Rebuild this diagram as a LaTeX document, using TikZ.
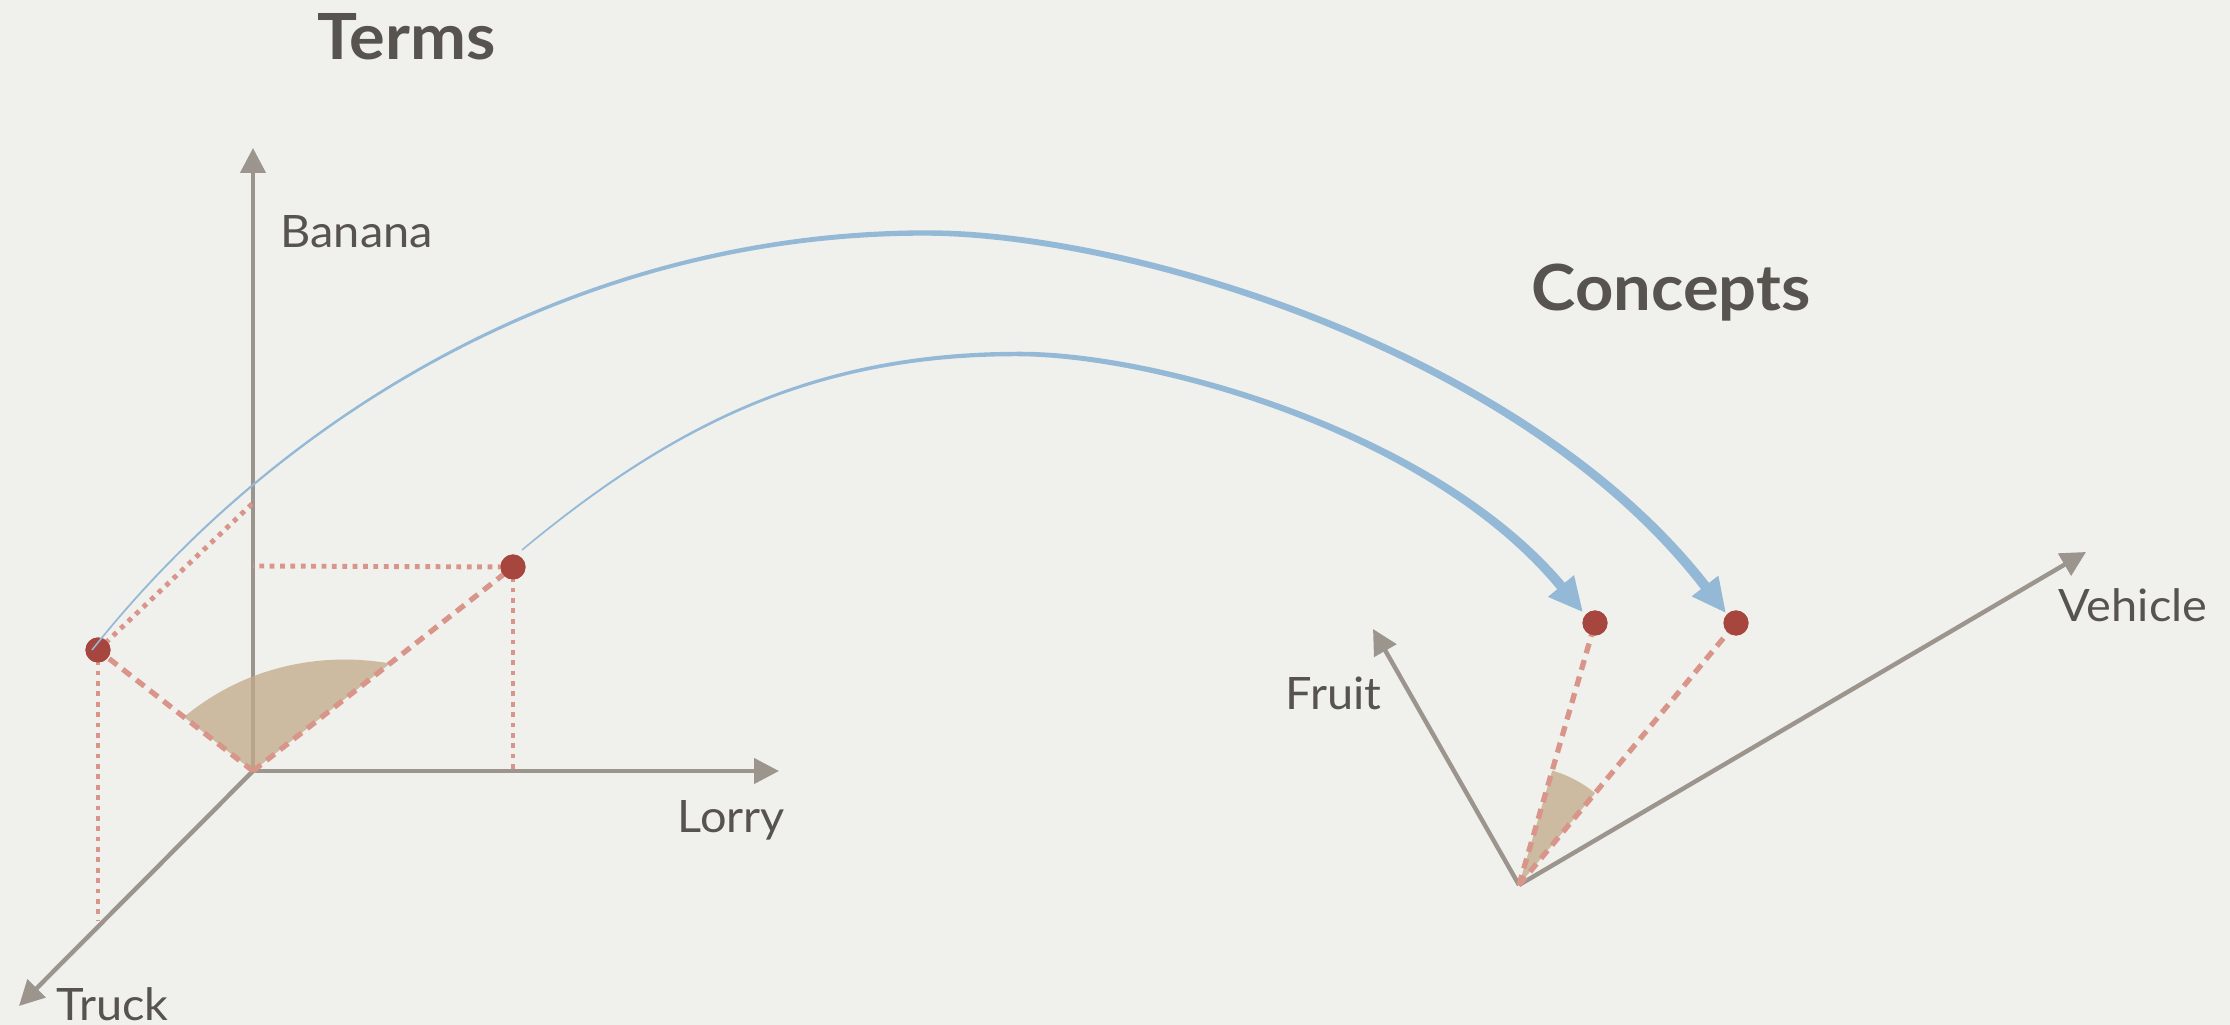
\documentclass[tikz,border=0pt]{standalone}
\usepackage{fontspec}
\setmainfont{Lato}[FakeStretch=1.05]
\usetikzlibrary{arrows.meta}
\definecolor{bg}{HTML}{F0F0EC}
\definecolor{axisc}{HTML}{9B958E}
\definecolor{dotc}{HTML}{A6463F}
\definecolor{linec}{HTML}{D9958A}
\definecolor{bluec}{HTML}{94B9D6}
\definecolor{wedgec}{HTML}{C2AA88}
\definecolor{textc}{HTML}{57534E}
\begin{document}
\begin{tikzpicture}[x=0.01cm,y=-0.01cm,
  axisline/.style={draw=axisc, line width=1.25pt, -{Triangle[length=7.1pt,width=7.1pt]}},
  dotline/.style={draw=linec, line width=1.4pt, dash pattern=on 1.35pt off 1.6pt},
  dashline/.style={draw=linec, line width=1.5pt, dash pattern=on 2.9pt off 2pt},
  vec/.style={circle, fill=dotc, minimum size=0.25cm, inner sep=0pt},
  lbl/.style={text=textc, font=\fontsize{12.7}{15}\selectfont, anchor=base west, inner sep=0pt},
  ttl/.style={text=textc, font=\fontsize{18.1}{22}\selectfont\bfseries, anchor=base west, inner sep=0pt},
  wedge/.style={fill=wedgec, fill opacity=0.75},
  flow/.style={fill=bluec}
]
% background / bounding box
\fill[bg] (0,0) rectangle (2230,1025);

% ---------- left (Terms) ----------
\coordinate (O) at (253,771);
\coordinate (Ban) at (253,148);
\coordinate (Lor) at (779,771);
\coordinate (Tru) at (19,1006);
\coordinate (Aup) at (253,503);
\coordinate (Adn) at (98,921);
\coordinate (Bup) at (253,566);
\coordinate (Bdn) at (513,771);

\draw[axisline] (O) -- (Ban);
\draw[axisline] (O) -- (Lor);
\draw[axisline] (O) -- (Tru);

\path[wedge] (O) -- (184,717) .. controls (243,668) and (318,651) .. (390,663.5) -- cycle;

\node[vec] (A) at (98,650) {};
\node[vec] (B) at (513,567) {};

\draw[dotline] (A.center) -- (Aup);
\draw[dotline] (A.center) -- (Adn);
\draw[dotline] (B.center) -- (Bup);
\draw[dotline] (B.center) -- (Bdn);
\draw[dashline] (O) -- (A.center);
\draw[dashline] (O) -- (B.center);
\node[vec] at (A) {};
\node[vec] at (B) {};

% ---------- right (Concepts) ----------
\coordinate (O2) at (1519,885);
\coordinate (Fru) at (1373,629);
\coordinate (Veh) at (2086,552);
\draw[axisline] (O2) -- (Fru);
\draw[axisline] (O2) -- (Veh);

\path[wedge] (O2) -- (1552.2,770.6) .. controls (1567.9,775.1) and (1582.5,782.8) .. (1595.1,793.2) -- cycle;

\node[vec] (C) at (1595,623) {};
\node[vec] (D) at (1736,623) {};
\draw[dashline] (O2) -- (C.center);
\draw[dashline] (O2) -- (D.center);
\node[vec] at (C) {};
\node[vec] at (D) {};

% ---------- tapered blue arrows ----------
\fill[flow] (92.6,650.5) .. controls (279,416.8) and (576,234.9) .. (926,235.7)
  .. controls (1126,236.4) and (1518,351.6) .. (1701.0,589.1)
  -- (1691.6,596.4) -- (1725.5,612.5) -- (1718.4,575.6) -- (1709.0,582.9)
  .. controls (1524,346.4) and (1126,229.6) .. (926,230.3)
  .. controls (576,231.1) and (277,415.2) .. (91.4,649.5) -- cycle;

\fill[flow] (522.48,550.58) .. controls (676.8,422.96) and (818,355.75) .. (1018,356.25)
  .. controls (1158,357) and (1429.7,435) .. (1557.2,589.2)
  -- (1547.96,596.91) -- (1582.5,611.7) -- (1574.04,575.09) -- (1564.8,582.8)
  .. controls (1435.5,430.2) and (1158,351) .. (1018,351.75)
  .. controls (818,352.25) and (675.2,421.04) .. (521.52,549.42) -- cycle;

% ---------- labels ----------
\node[ttl] (terms) at (317,60) {Terms};
\node[ttl] (concepts) at (1531,311) {Concepts};
\node[lbl] (lban) at (280,248) {Banana};
\node[lbl] (llor) at (677,833) {Lorry};
\node[lbl] (ltru) at (56,1020) {Truck};
\node[lbl] (lfru) at (1285,710) {Fruit};
\node[lbl] (lveh) at (2058,622) {Vehicle};
\end{tikzpicture}
\end{document}
